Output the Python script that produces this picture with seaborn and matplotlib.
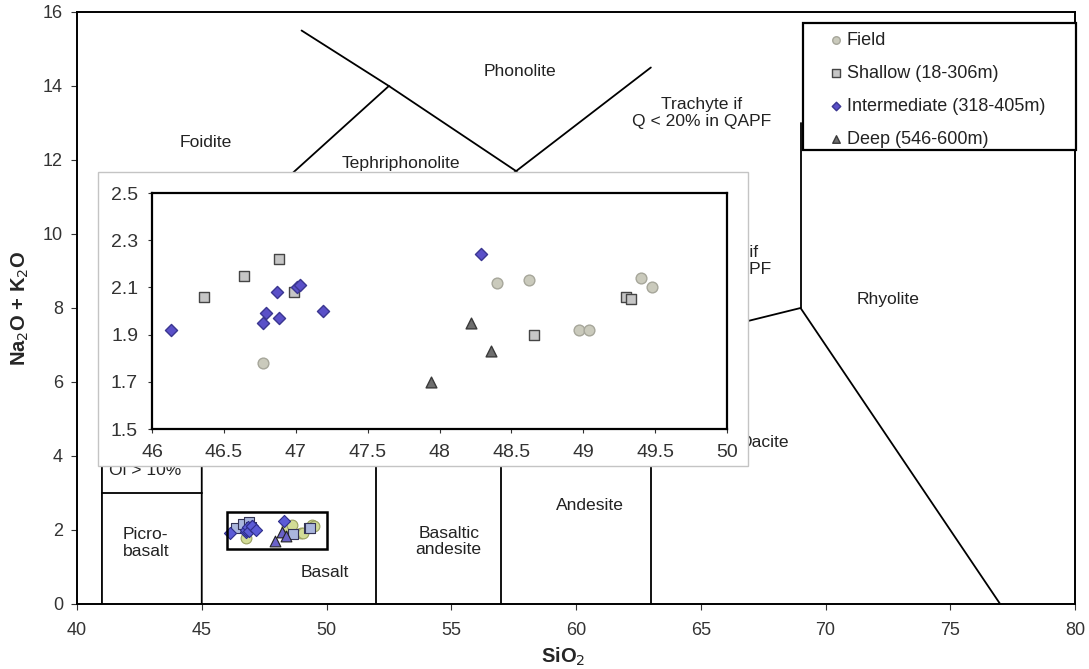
import matplotlib
matplotlib.use("Agg")
import pandas as pd
import matplotlib.pyplot as plt
import seaborn as sns
from matplotlib.patches import Rectangle

# sample groups (SiO2 vs total alkali)
field_sio2 = [46.77, 48.40, 48.62, 49.40, 49.48, 48.97, 49.04]
field_alk = [1.78, 2.12, 2.13, 2.14, 2.10, 1.92, 1.92]
shallow_sio2 = [46.36, 46.64, 46.88, 46.99, 48.66, 49.30, 49.33]
shallow_alk = [2.06, 2.15, 2.22, 2.08, 1.90, 2.06, 2.05]
inter_sio2 = [46.13, 46.77, 46.79, 46.87, 46.88, 47.01, 47.03, 47.19, 48.29]
inter_alk = [1.92, 1.95, 1.99, 2.08, 1.97, 2.10, 2.11, 2.00, 2.24]
deep_sio2 = [47.94, 48.22, 48.36]
deep_alk = [1.70, 1.95, 1.83]

group_names = ["Field", "Shallow (18-306m)", "Intermediate (318-405m)", "Deep (546-600m)"]

# TAS field boundaries (Le Bas et al.)
tas_lines = [
    [(41, 0), (41, 7), (45, 9.4), (48.4, 11.5), (52.5, 14), (49, 15.5)],
    [(52.5, 14), (57.6, 11.7), (63, 14.5)],
    [(41, 3), (45, 3)],
    [(45, 0), (45, 5), (49.4, 7.3), (53, 9.3), (57.6, 11.7)],
    [(45, 5), (52, 5), (57, 5.9), (63, 7), (69, 8), (77, 0)],
    [(45, 9.4), (49.4, 7.3), (52, 5)],
    [(48.4, 11.5), (53, 9.3), (57, 5.9)],
    [(52, 0), (52, 5)],
    [(57, 0), (57, 5.9)],
    [(63, 0), (63, 7)],
    [(57.6, 11.7), (63, 7)],
    [(69, 8), (69, 13)],
]

field_labels = [
    ("Foidite", 45.17, 12.47),
    ("Phonolite", 57.74, 14.39),
    ("Tephriphonolite", 53.0, 11.9),
    ("Trachyte if\nQ < 20% in QAPF", 65.05, 13.27),
    ("Trachydacite if\nQ > 20% in QAPF", 65.05, 9.27),
    ("Rhyolite", 72.5, 8.24),
    ("Dacite", 67.55, 4.36),
    ("Ol > 10%", 42.75, 3.6),
    ("Picro-\nbasalt", 41.84, 1.65),
    ("Basalt", 49.94, 0.85),
    ("Basaltic\nandesite", 54.9, 1.7),
    ("Andesite", 60.56, 2.65),
]

frames = []
for name, xs, ys in zip(group_names,
                        [field_sio2, shallow_sio2, inter_sio2, deep_sio2],
                        [field_alk, shallow_alk, inter_alk, deep_alk]):
    frames.append(pd.DataFrame({"SiO2": xs, "alk": ys, "group": name}))
df = pd.concat(frames, ignore_index=True)

markers = {group_names[0]: "o", group_names[1]: "s", group_names[2]: "D", group_names[3]: "^"}
inset_face = {group_names[0]: "#cacabc", group_names[1]: "#c6c6c6",
              group_names[2]: "#5a50c8", group_names[3]: "#6e6e6e"}
inset_edge = {group_names[0]: "#a6a69a", group_names[1]: "#454545",
              group_names[2]: "#3a3690", group_names[3]: "#3a3a3a"}
main_face = {group_names[0]: "#d2dc96", group_names[1]: "#aab6dd",
             group_names[2]: "#5b5bd6", group_names[3]: "#6a62c8"}
main_edge = {group_names[0]: "#9aa060", group_names[1]: "#333355",
             group_names[2]: "#2e2e8a", group_names[3]: "#222222"}
sizes = {group_names[0]: 60, group_names[1]: 55, group_names[2]: 38, group_names[3]: 60}

sns.set_style("ticks")
plt.rcParams["font.family"] = ["Liberation Sans", "DejaVu Sans"]

fig = plt.figure(figsize=(10.89, 6.69), dpi=100)
ax = fig.add_axes([77 / 1089, (669 - 604) / 669, 998 / 1089, 592 / 669])

for line in tas_lines:
    xs = [p[0] for p in line]
    ys = [p[1] for p in line]
    ax.plot(xs, ys, color="black", lw=1.3, zorder=2, solid_joinstyle="miter")

for txt, x, y in field_labels:
    ha = "left" if txt.startswith("Picro") else "center"
    ax.text(x, y, txt, ha=ha, va="center", fontsize=12.6, color="#222222",
            zorder=3, linespacing=1.1)

# selection rectangle
ax.add_patch(Rectangle((46, 1.5), 4, 1, fill=False, edgecolor="black", lw=1.8, zorder=5))

for name in group_names:
    sub = df[df["group"] == name]
    sns.scatterplot(data=sub, x="SiO2", y="alk", ax=ax, marker=markers[name],
                    color=main_face[name], edgecolor=main_edge[name], linewidth=0.8,
                    s=sizes[name], legend=False, zorder=4)

ax.set_xlim(40, 80)
ax.set_ylim(0, 16)
ax.set_xticks(range(40, 81, 5))
ax.set_yticks(range(0, 17, 2))
ax.tick_params(axis="both", labelsize=13, colors="#333333", length=4, width=0.8)
ax.tick_params(axis="x", pad=9)
ax.tick_params(axis="y", pad=6)
for sp in ax.spines.values():
    sp.set_linewidth(1.4)
    sp.set_color("black")
ax.set_xlabel("SiO$_2$", fontsize=14.5, fontweight="bold")
ax.set_ylabel("Na$_2$O + K$_2$O", fontsize=14.5, fontweight="bold")
ax.xaxis.set_label_coords(0.487, -0.07)
ax.yaxis.set_label_coords(-0.046, 0.5)

# white panel behind the inset
ax.add_patch(Rectangle((98 / 1089, (669 - 466) / 669), 650 / 1089, 294 / 669,
                       transform=fig.transFigure, facecolor="white",
                       edgecolor="#c4c4c4", lw=1.0, zorder=10, clip_on=False))

# legend frame
ax.add_patch(Rectangle((803 / 1089, (669 - 150) / 669), 273 / 1089, 127 / 669,
                       transform=fig.transFigure, facecolor="white",
                       edgecolor="black", lw=1.6, zorder=10, clip_on=False))

# inset
axin = fig.add_axes([152 / 1089, (669 - 429) / 669, 575 / 1089, 236 / 669])
for name in group_names:
    sub = df[df["group"] == name]
    sns.scatterplot(data=sub, x="SiO2", y="alk", ax=axin, marker=markers[name],
                    color=inset_face[name], edgecolor=inset_edge[name], linewidth=1.0,
                    s=sizes[name], legend=False, zorder=4, label=name)
axin.set_xlim(46, 50)
axin.set_ylim(1.5, 2.5)
axin.set_xticks([46, 46.5, 47, 47.5, 48, 48.5, 49, 49.5, 50])
axin.set_xticklabels(["46", "46.5", "47", "47.5", "48", "48.5", "49", "49.5", "50"])
axin.set_yticks([1.5, 1.7, 1.9, 2.1, 2.3, 2.5])
axin.set_yticklabels(["1.5", "1.7", "1.9", "2.1", "2.3", "2.5"])
axin.tick_params(axis="both", labelsize=14, colors="#333333", length=3, width=0.8)
axin.tick_params(axis="x", pad=8)
axin.tick_params(axis="y", pad=7)
axin.set_xlabel("")
axin.set_ylabel("")
for sp in axin.spines.values():
    sp.set_linewidth(1.6)
    sp.set_color("black")

h, l = axin.get_legend_handles_labels()
leg = ax.legend(h, l, loc="upper left", bbox_to_anchor=(831 / 1089, (669 - 32) / 669),
                bbox_transform=fig.transFigure, frameon=False, borderpad=0,
                handlelength=0.6, handletextpad=0.26, labelspacing=0.88,
                fontsize=13, markerscale=0.7, borderaxespad=0)
leg.set_zorder(12)
for t in leg.get_texts():
    t.set_color("#222222")

fig.savefig("out.png", dpi=100)
